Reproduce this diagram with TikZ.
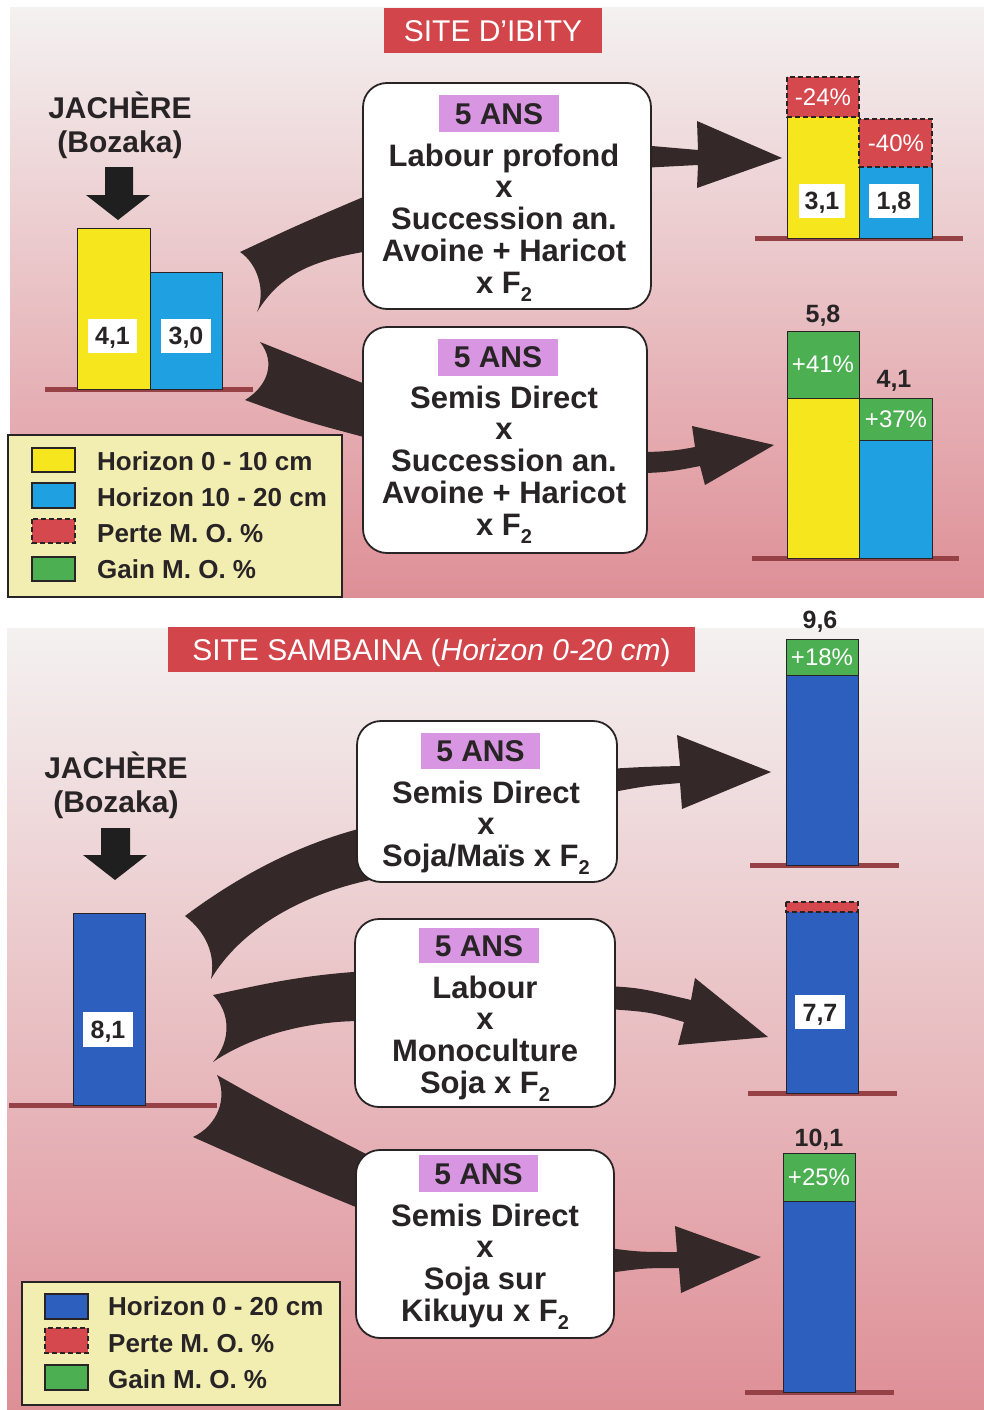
\documentclass[tikz,border=0pt]{standalone}
\usepackage{fontspec}
\setmainfont{Liberation Sans}
\definecolor{ink}{RGB}{40,36,38}
\definecolor{flowc}{RGB}{52,40,40}
\definecolor{titlered}{RGB}{210,70,75}
\definecolor{lossred}{RGB}{212,72,78}
\definecolor{gaingreen}{RGB}{76,175,82}
\definecolor{yel}{RGB}{246,230,30}
\definecolor{skyblue}{RGB}{30,160,225}
\definecolor{deepblue}{RGB}{45,95,190}
\definecolor{violet}{RGB}{216,150,226}
\definecolor{legbg}{RGB}{242,238,178}
\definecolor{groundc}{RGB}{150,65,70}
\definecolor{pinktop}{RGB}{244,241,241}
\definecolor{pinkmid}{RGB}{235,200,202}
\definecolor{pinkbot}{RGB}{222,143,150}
\newcommand{\Fsub}{F\raisebox{-8pt}{\fontsize{20}{20}\selectfont 2}}
\begin{document}
\begin{tikzpicture}[x=1pt,y=-1pt,
  txt/.style={font=\fontsize{31}{31.8}\selectfont\bfseries, text=ink, inner sep=0, anchor=base},
  head/.style={font=\fontsize{30}{34}\selectfont\bfseries, text=ink, inner sep=0, anchor=base},
  ans/.style={fill=violet, text=ink, font=\fontsize{30}{30}\selectfont\bfseries, inner sep=0,
    minimum width=120pt, minimum height=37pt, text height=21.5pt, text depth=0pt},
  optbox/.style={draw=ink, line width=1.8pt, fill=white, rounded corners=24pt, inner sep=0},
  title/.style={fill=titlered, text=white, font=\fontsize{30}{30}\selectfont, inner sep=0,
    minimum height=45pt, text height=21.5pt, text depth=0pt},
  val/.style={fill=white, text=ink, font=\fontsize{25}{25}\selectfont\bfseries, inner sep=0,
    minimum width=49pt, minimum height=34pt, text height=18pt, text depth=0pt},
  top/.style={text=ink, font=\fontsize{25}{25}\selectfont\bfseries, inner sep=0, anchor=base},
  pct/.style={text=white, font=\fontsize{24}{24}\selectfont, inner sep=0, text height=17pt, text depth=0pt},
  bar/.style={draw=ink, line width=1pt},
  loss/.style={fill=lossred, draw=ink, line width=1.3pt, dash pattern=on 5pt off 3pt},
  groundline/.style={draw=groundc, line width=5pt},
  flow/.style={fill=flowc},
  down/.style={fill=black!88},
  legbox/.style={draw=ink, line width=1.5pt, fill=legbg, inner sep=0},
  swatch/.style={draw=ink, line width=1.5pt},
  legtxt/.style={font=\fontsize{26}{26}\selectfont\bfseries, text=ink, anchor=base west, inner sep=0}]

\useasboundingbox (0,0) rectangle (984,1410);
\fill[white] (0,0) rectangle (984,1410);

% ---------------- panel backgrounds ----------------
\shade[top color=pinktop, middle color=pinkmid, bottom color=pinkbot] (10,8) rectangle (984,597);
\shade[top color=pinktop, middle color={rgb,255:red,234;green,192;blue,195}, bottom color=pinkbot] (7,628) rectangle (984,1410);

% ================= SITE D'IBITY =================
\node[title, minimum width=218pt] (ibity) at (493,30.5) {SITE D’IBITY};

\node[head] (jach1) at (120,118) {JACHÈRE};
\node[head] (boz1) at (120,152) {(Bozaka)};
\fill[down] (105,167) -- (133,167) -- (133,195) -- (150,195) -- (118,220) -- (86,195) -- (105,195) -- cycle;

% fallow bars
\draw[groundline] (45,389) -- (253,389);
\filldraw[bar, fill=yel] (77,228) rectangle (150,389);
\filldraw[bar, fill=skyblue] (150,272) rectangle (222,389);
\node[val] (v41) at (112.5,335.5) {4,1};
\node[val, minimum width=50pt] (v30) at (186,335.5) {3,0};

% result: deep tillage
\draw[groundline] (755,238) -- (963,238);
\fill[yel] (787,117) rectangle (859,238);
\fill[skyblue] (859,167) rectangle (932,238);
\draw[bar] (787,117) -- (787,238) -- (932,238) -- (932,167);
\draw[bar] (859,117) -- (859,238);
\filldraw[loss] (787,77) rectangle (859,117);
\filldraw[loss] (859,119) rectangle (932,167);
\node[pct] (p24) at (823,97) {-24\%};
\node[pct] (p40) at (896,143) {-40\%};
\node[val, minimum width=46pt] (v31) at (822,200.5) {3,1};
\node[val, minimum width=50pt] (v18) at (894,200.5) {1,8};

% result: direct seeding
\draw[groundline] (752,558) -- (959,558);
\filldraw[bar, fill=gaingreen] (787,331) rectangle (859,398);
\filldraw[bar, fill=yel] (787,398) rectangle (859,558);
\filldraw[bar, fill=gaingreen] (859,398) rectangle (932,440);
\filldraw[bar, fill=skyblue] (859,440) rectangle (932,558);
\node[pct] (p41) at (823,364) {+41\%};
\node[pct] (p37) at (896,419) {+37\%};
\node[top] (t58) at (823,322) {5,8};
\node[top] (t41) at (894,387) {4,1};

% flows
\fill[flow] (240,252) .. controls (300,224) .. (375,192) -- (375,250)
  .. controls (310,260) and (280,275) .. (257,312)
  .. controls (266,292) and (258,264) .. cycle;
\fill[flow] (260,342) .. controls (310,362) .. (375,388) -- (375,440)
  .. controls (300,420) .. (245,400)
  .. controls (268,386) and (276,362) .. cycle;
\fill[flow] (640,145) -- (698,150) -- (697,121) -- (782,158) -- (697,188) -- (698,165) -- (640,168) -- cycle;
\fill[flow] (640,452) .. controls (665,452) and (680,450) .. (695,447) -- (692,426) -- (774,445)
  -- (705,485) -- (700,466) .. controls (680,470) and (665,473) .. (640,473) -- cycle;

% treatments
\node[optbox, minimum width=288pt, minimum height=226pt] (b1) at (507,196) {};
\node[ans] (b1a) at (499,113.5) {5 ANS};
\node[txt] (b1t) at (504,166) {\begin{tabular}[t]{@{}c@{}}Labour profond\\x\\Succession an.\\Avoine + Haricot\\x \Fsub\end{tabular}};

\node[optbox, minimum width=284pt, minimum height=226pt] (b2) at (505,440) {};
\node[ans] (b2a) at (498,357) {5 ANS};
\node[txt] (b2t) at (504,408) {\begin{tabular}[t]{@{}c@{}}Semis Direct\\x\\Succession an.\\Avoine + Haricot\\x \Fsub\end{tabular}};

% legend
\node[legbox, minimum width=334pt, minimum height=162pt] (leg1) at (175,516) {};
\filldraw[swatch, fill=yel] (32,448) rectangle (75,472);
\filldraw[swatch, fill=skyblue] (32,483) rectangle (75,508);
\filldraw[loss, line width=1.5pt] (32,519) rectangle (75,543);
\filldraw[swatch, fill=gaingreen] (32,557) rectangle (75,581);
\node[legtxt] (l1a) at (97,470) {Horizon 0 - 10 cm};
\node[legtxt] (l1b) at (97,506) {Horizon 10 - 20 cm};
\node[legtxt] (l1c) at (97,542) {Perte M. O. \%};
\node[legtxt] (l1d) at (97,578) {Gain M. O. \%};

% ================= SITE SAMBAINA =================
\node[title, minimum width=527pt] (samb) at (431.5,649.5) {SITE SAMBAINA (\textit{Horizon 0-20 cm})};

\node[head] (jach2) at (116,778) {JACHÈRE};
\node[head] (boz2) at (116,812) {(Bozaka)};
\fill[down] (101,828) -- (130,828) -- (130,855) -- (147,855) -- (115,880) -- (83,855) -- (101,855) -- cycle;

\draw[groundline] (9,1105) -- (217,1105);
\filldraw[bar, fill=deepblue] (73,913) rectangle (145,1105);
\node[val, minimum width=50pt, minimum height=35pt] (v81) at (108,1029.5) {8,1};

% result A
\draw[groundline] (750,865) -- (899,865);
\filldraw[bar, fill=gaingreen] (786,639) rectangle (858,675);
\filldraw[bar, fill=deepblue] (786,675) rectangle (858,865);
\node[pct] (p18) at (822,657) {+18\%};
\node[top] (t96) at (820,628) {9,6};

% result B
\draw[groundline] (748,1093) -- (897,1093);
\fill[deepblue] (786,912) rectangle (858,1093);
\draw[bar] (786,912) -- (786,1093) -- (858,1093) -- (858,912);
\filldraw[loss] (786,902) rectangle (858,912);
\node[val, minimum width=50pt] (v77) at (820,1012) {7,7};

% result C
\draw[groundline] (745,1392) -- (894,1392);
\filldraw[bar, fill=gaingreen] (783,1153) rectangle (855,1201);
\filldraw[bar, fill=deepblue] (783,1201) rectangle (855,1392);
\node[pct] (p25) at (819,1177) {+25\%};
\node[top] (t101) at (819,1146) {10,1};

% flows
\fill[flow] (185,916) .. controls (240,875) and (300,843) .. (370,826) -- (370,880)
  .. controls (300,895) and (240,930) .. (211,979)
  .. controls (216,955) and (206,932) .. cycle;
\fill[flow] (213,995) .. controls (260,985) and (300,975) .. (368,971) -- (368,1021)
  .. controls (300,1020) and (245,1040) .. (213,1062)
  .. controls (232,1040) and (230,1012) .. cycle;
\fill[flow] (217,1075) .. controls (270,1105) .. (372,1157) -- (368,1212)
  .. controls (290,1180) .. (193,1137)
  .. controls (218,1125) and (228,1098) .. cycle;
\fill[flow] (608,769) .. controls (640,767) .. (680,766) -- (677,735) -- (771,772) -- (682,809)
  -- (680,783) .. controls (645,786) .. (608,793) -- cycle;
\fill[flow] (608,986) .. controls (640,988) .. (691,1000) -- (695,978) -- (768,1037) -- (678,1045)
  -- (684,1022) .. controls (650,1012) .. (608,1009) -- cycle;
\fill[flow] (608,1248) .. controls (640,1252) .. (677,1252) -- (675,1226) -- (761,1257) -- (681,1293)
  -- (679,1268) .. controls (645,1268) .. (608,1273) -- cycle;

% treatments
\node[optbox, minimum width=260pt, minimum height=161pt] (c1) at (487,801.5) {};
\node[ans, minimum width=119pt, minimum height=36pt] (c1a) at (480.5,751) {5 ANS};
\node[txt] (c1t) at (486,803) {\begin{tabular}[t]{@{}c@{}}Semis Direct\\x\\Soja/Maïs x \Fsub\end{tabular}};

\node[optbox, minimum width=260pt, minimum height=188pt] (c2) at (485,1013) {};
\node[ans, minimum height=35pt] (c2a) at (479,945.5) {5 ANS};
\node[txt] (c2t) at (485,998) {\begin{tabular}[t]{@{}c@{}}Labour\\x\\Monoculture\\Soja x \Fsub\end{tabular}};

\node[optbox, minimum width=258pt, minimum height=188pt] (c3) at (485,1244) {};
\node[ans, minimum width=119pt] (c3a) at (478.5,1173.5) {5 ANS};
\node[txt] (c3t) at (485,1226) {\begin{tabular}[t]{@{}c@{}}Semis Direct\\x\\Soja sur\\Kikuyu x \Fsub\end{tabular}};

% legend
\node[legbox, minimum width=318pt, minimum height=123pt] (leg2) at (181,1343.5) {};
\filldraw[swatch, fill=deepblue] (45,1294) rectangle (88,1319);
\filldraw[loss, line width=1.5pt] (45,1328) rectangle (88,1353);
\filldraw[swatch, fill=gaingreen] (45,1365) rectangle (88,1390);
\node[legtxt] (l2a) at (108,1315) {Horizon 0 - 20 cm};
\node[legtxt] (l2b) at (108,1352) {Perte M. O. \%};
\node[legtxt] (l2c) at (108,1388) {Gain M. O. \%};

\end{tikzpicture}
\end{document}
